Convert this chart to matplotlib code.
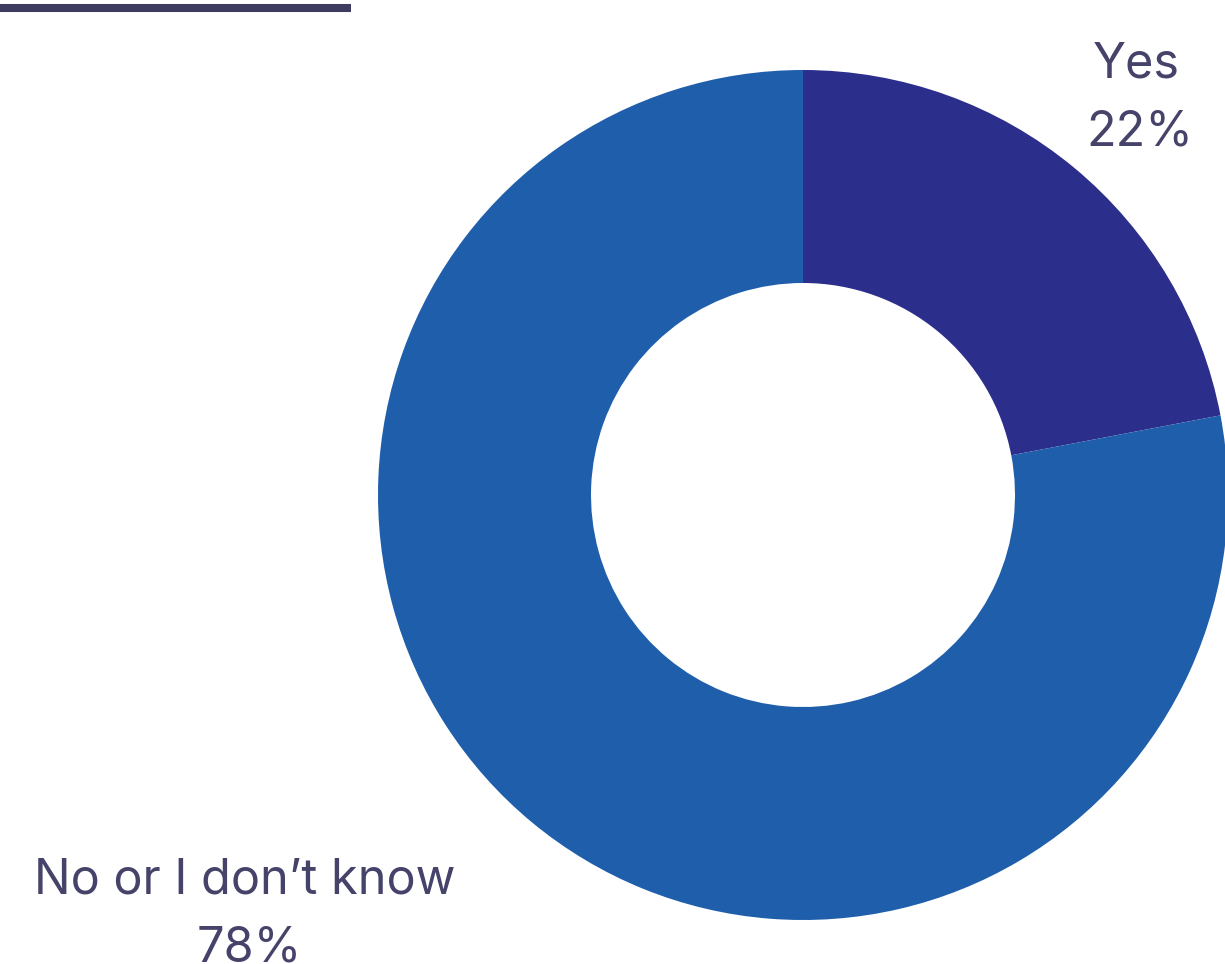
import matplotlib.pyplot as plt

labels = ["Yes", "No or I don't know"]
display_labels = ["Yes", "No or I don\u2019t know"]
values = [22, 78]
colors = ["#2b2e8a", "#1f5eab"]

TEXT_COLOR = "#46436a"
W, H = 1225, 964

fig = plt.figure(figsize=(W / 100, H / 100), dpi=100)
ax = fig.add_axes([0, 0, 1, 1])

# donut
cx, cy, r = 803, H - 495, 425
ax.pie(values, colors=colors, startangle=90, counterclock=False,
       center=(cx, cy), radius=r, frame=True,
       wedgeprops=dict(width=213, linewidth=0))
ax.set_xlim(0, W)
ax.set_ylim(0, H)
ax.set_aspect("equal")
ax.axis("off")

# top-left decorative bar
ax.plot([0, 351], [H - 8, H - 8], color="#3d3b5e", linewidth=5.8,
        solid_capstyle="butt")

# labels
font = dict(family=["Inter", "DejaVu Sans"], fontsize=35, color=TEXT_COLOR,
            ha="center", va="baseline")
ax.text(1136, H - 77, display_labels[0], **font)
ax.text(1140, H - 146, f"{values[0]}%", **font)
ax.text(245, H - 893, display_labels[1], **font)
ax.text(249, H - 961, f"{values[1]}%", **font)

fig.savefig("out.png", dpi=100, facecolor="white")
